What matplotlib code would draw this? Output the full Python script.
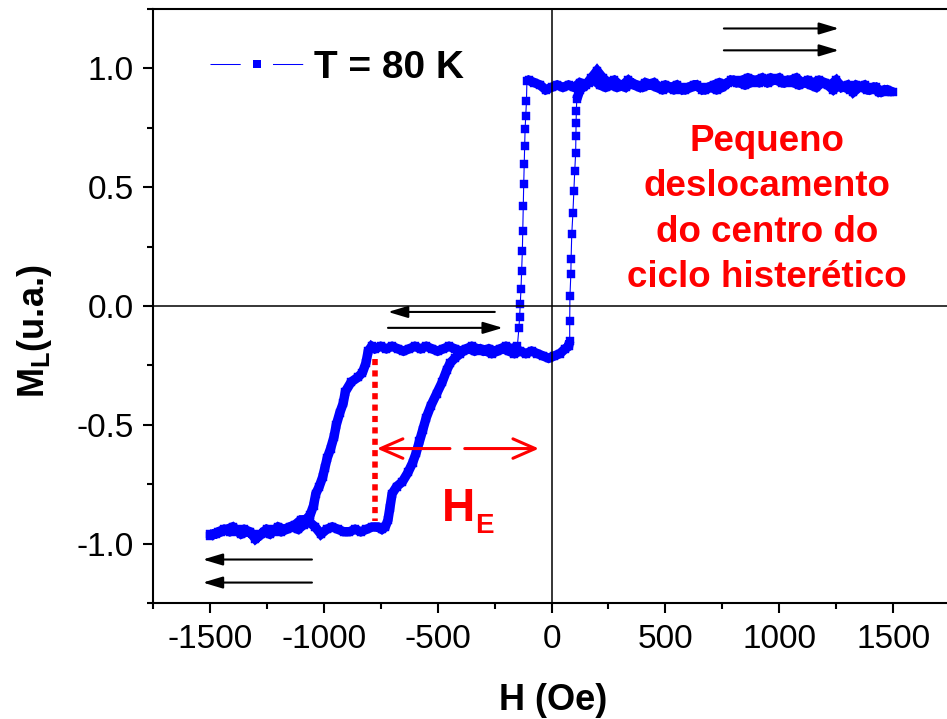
import matplotlib
matplotlib.use("Agg")
import numpy as np
import matplotlib.pyplot as plt
from matplotlib.lines import Line2D
from matplotlib.legend_handler import HandlerTuple

plt.rcParams['font.family'] = ['Liberation Sans', 'DejaVu Sans']
plt.rcParams['axes.unicode_minus'] = False
plt.rcParams['mathtext.fontset'] = 'custom'
plt.rcParams['mathtext.rm'] = 'Liberation Sans'
plt.rcParams['mathtext.bf'] = 'Liberation Sans:bold'

# ---------------- data ----------------
# descending branch: +1500 Oe -> -1500 Oe
H_down = [1500, 1475, 1450, 1425, 1400, 1375, 1350, 1325, 1300, 1275, 1250, 1225, 1200,
          1175, 1150, 1125, 1100, 1075, 1050, 1025, 1000, 975, 950, 925, 900, 875, 850,
          825, 800, 775, 750, 725, 700, 675, 650, 625, 600, 575, 550, 525, 500, 475, 450,
          425, 400, 375, 350, 325, 300, 275, 250, 225, 200, 175, 150, 125, 100, 75, 50,
          25, 0, -25, -50, -75, -100,
          -108, -110, -113, -116, -118, -120, -122, -124, -126, -128, -131, -134, -137, -140, -143,
          -150, -175, -200, -225, -250, -275, -300, -325, -350, -375, -400, -425, -450,
          -475, -500, -525, -550, -575, -600, -625, -650, -675, -700, -725, -750, -775, -790,
          -805, -815, -830, -850, -880, -905, -915, -930, -945, -955, -970, -985, -995,
          -1005, -1020, -1035, -1045, -1060, -1080, -1100,
          -1125, -1150, -1175, -1200, -1225, -1250, -1275, -1300, -1325, -1350, -1375,
          -1400, -1425, -1450, -1475, -1500]
M_down = [0.90, 0.91, 0.90, 0.92, 0.91, 0.93, 0.92, 0.90, 0.93, 0.92, 0.95, 0.93, 0.94,
          0.95, 0.94, 0.95, 0.94, 0.96, 0.95, 0.94, 0.96, 0.95, 0.94, 0.96, 0.95, 0.94, 0.93,
          0.94, 0.95, 0.94, 0.92, 0.91, 0.92, 0.91, 0.92, 0.93, 0.92, 0.91, 0.93, 0.92, 0.93,
          0.92, 0.94, 0.93, 0.92, 0.93, 0.94, 0.92, 0.93, 0.95, 0.94, 0.96, 0.99, 0.96, 0.93,
          0.94, 0.92, 0.93, 0.92, 0.93, 0.92, 0.91, 0.93, 0.94, 0.95,
          0.945, 0.861, 0.798, 0.744, 0.672, 0.597, 0.513, 0.420, 0.315, 0.231, 0.147,
          0.071, 0.008, -0.046, -0.092,
          -0.17, -0.18, -0.17, -0.18, -0.19, -0.18, -0.19, -0.18, -0.17, -0.18, -0.19,
          -0.18, -0.17, -0.18, -0.19, -0.18, -0.17, -0.18, -0.17, -0.18, -0.19, -0.18,
          -0.17, -0.18, -0.17, -0.18, -0.17,
          -0.19, -0.24, -0.28, -0.30, -0.32, -0.36, -0.41, -0.45, -0.50, -0.55, -0.60,
          -0.64, -0.68, -0.72, -0.76, -0.79, -0.84, -0.88, -0.90, -0.90,
          -0.92, -0.93, -0.94, -0.93, -0.95, -0.94, -0.96, -0.98, -0.95, -0.94, -0.95,
          -0.93, -0.94, -0.95, -0.96, -0.96]

# ascending branch: -1500 Oe -> +1500 Oe
H_up = [-1500, -1462.5, -1437.5, -1412.5, -1387.5, -1362.5, -1337.5, -1312.5, -1287.5,
        -1262.5, -1237.5, -1212.5, -1187.5, -1162.5, -1137.5, -1112.5, -1087.5, -1062.5,
        -1037.5, -1012.5, -987.5, -962.5, -937.5, -912.5, -887.5, -862.5, -837.5, -812.5,
        -787.5, -762.5, -745, -730,
        -718, -710, -700, -680, -655, -630, -610, -595, -580, -565, -550, -530, -505,
        -480, -460, -445, -425, -400,
        -387.5, -362.5, -337.5, -312.5, -287.5, -262.5, -237.5, -212.5, -187.5, -162.5,
        -137.5, -112.5, -87.5, -62.5, -37.5, -12.5, 12.5, 37.5, 60, 75,
        80, 80, 81, 85, 86, 89, 94, 98, 102, 106, 107, 108, 109, 111,
        125, 137.5, 162.5, 187.5, 212.5, 237.5, 262.5, 287.5, 312.5, 337.5, 362.5, 387.5,
        412.5, 437.5, 462.5, 487.5, 512.5, 537.5, 562.5, 587.5, 612.5, 637.5, 662.5, 687.5,
        712.5, 737.5, 762.5, 787.5, 812.5, 837.5, 862.5, 887.5, 912.5, 937.5, 962.5, 987.5,
        1012.5, 1037.5, 1062.5, 1087.5, 1112.5, 1137.5, 1162.5, 1187.5, 1212.5, 1237.5,
        1262.5, 1287.5, 1312.5, 1337.5, 1362.5, 1387.5, 1412.5, 1437.5, 1462.5, 1487.5]
M_up = [-0.97, -0.95, -0.94, -0.95, -0.94, -0.96, -0.95, -0.96, -0.97, -0.95, -0.96,
        -0.94, -0.95, -0.94, -0.93, -0.94, -0.92, -0.91, -0.93, -0.96, -0.94, -0.93, -0.94,
        -0.95, -0.95, -0.94, -0.95, -0.94, -0.93, -0.93, -0.94, -0.93,
        -0.90, -0.85, -0.79, -0.76, -0.74, -0.70, -0.66, -0.62, -0.57, -0.52, -0.47,
        -0.42, -0.37, -0.32, -0.27, -0.24, -0.22, -0.20,
        -0.19, -0.18, -0.19, -0.18, -0.19, -0.20, -0.19, -0.18, -0.19, -0.20, -0.19,
        -0.20, -0.19, -0.20, -0.21, -0.22, -0.21, -0.20, -0.18, -0.17,
        -0.147, -0.063, 0.042, 0.134, 0.197, 0.303, 0.391, 0.483, 0.567, 0.643, 0.714,
        0.769, 0.819, 0.870,
        0.91, 0.92, 0.94, 0.95, 0.93, 0.92, 0.93, 0.92, 0.93, 0.95, 0.93, 0.92, 0.94,
        0.93, 0.92, 0.91, 0.92, 0.91, 0.92, 0.91, 0.92, 0.93, 0.91, 0.92, 0.93, 0.94,
        0.93, 0.95, 0.94, 0.95, 0.96, 0.95, 0.94, 0.95, 0.96, 0.95, 0.94, 0.95, 0.94,
        0.93, 0.94, 0.93, 0.92, 0.94, 0.93, 0.91, 0.93, 0.92, 0.91, 0.93, 0.92, 0.91,
        0.92, 0.90, 0.91, 0.90]

series_label = "T = 80 K"
x_ticks = [-1500, -1000, -500, 0, 500, 1000, 1500]
y_ticks = [-1.0, -0.5, 0.0, 0.5, 1.0]
annot_text = "Pequeno\ndeslocamento\ndo centro do\nciclo histerético"
H_E_field = -776          # position of the red dotted line (Oe)
H_E_span = (-0.223, -0.903)

BLUE = '#0000ff'
RED = '#ff0000'

# ---------------- figure ----------------
fig = plt.figure(figsize=(9.47, 7.19), dpi=100)
ax = fig.add_axes([153/947, 116/719, 797/947, 594/719])

H_all = np.array(H_down + H_up, dtype=float)
M_all = np.array(M_down + M_up, dtype=float)

# densely sampled parts of the loop appear as a thick band: draw them with a wide
# line (broken where consecutive points are far apart, i.e. at the sharp jumps)
dH = np.abs(np.diff(H_all))
dM = np.abs(np.diff(M_all))
steep = dM > 0.009 * np.maximum(dH, 1e-9)
Hb, Mb = [H_all[0]], [M_all[0]]
for i in range(1, len(H_all)):
    if steep[i - 1]:
        Hb.append(np.nan)
        Mb.append(np.nan)
    Hb.append(H_all[i])
    Mb.append(M_all[i])
ax.plot(Hb, Mb, color=BLUE, lw=6.8, solid_joinstyle='miter', solid_capstyle='butt',
        zorder=3)
ax.plot(H_all, M_all, color=BLUE, lw=0.8, marker='s', ms=5.4, mec=BLUE, mfc=BLUE,
        mew=0.3, zorder=3)

ax.set_xlim(-1750, 1750)
ax.set_ylim(-1.25, 1.25)
ax.set_xticks(x_ticks)
ax.set_xticks([-1750, -1250, -750, -250, 250, 750, 1250, 1750], minor=True)
ax.set_yticks(y_ticks)
ax.set_yticks([-1.25, -0.75, -0.25, 0.25, 0.75, 1.25], minor=True)
ax.set_xticklabels([str(v) for v in x_ticks])
ax.set_yticklabels(["%.1f" % v for v in y_ticks])

for s in ['left', 'bottom', 'top']:
    ax.spines[s].set_linewidth(1.5)
ax.spines['right'].set_visible(False)
ax.tick_params(which='major', direction='out', length=7, width=1.5, labelsize=24,
               top=False, right=False)
ax.tick_params(which='minor', direction='out', length=4.5, width=1.5,
               top=False, right=False)
ax.tick_params(axis='x', which='major', pad=8)
ax.tick_params(axis='y', which='major', pad=7)

ax.axhline(0, color='k', lw=1.1, zorder=4)
ax.axvline(0, color='k', lw=1.1, zorder=4)

ax.set_xlabel("H (Oe)", fontsize=26, fontweight='bold')
ax.xaxis.set_label_coords(0.502, -0.135)
fig.text(35/947, 1 - 331/719, r"$\mathbf{M_L}$(u.a.)", rotation=90, fontsize=26,
         fontweight='bold', ha='center', va='center')

# legend
h_line = Line2D([], [], color=BLUE, lw=0.75, linestyle=(0, (29, 31)))
h_mark = Line2D([], [], color=BLUE, lw=0, marker='s', ms=6, mew=0)
ax.legend(handles=[(h_line, h_mark)], labels=[series_label],
          handler_map={tuple: HandlerTuple(ndivide=1, pad=0)},
          handlelength=2.4, handletextpad=0.28, frameon=False,
          loc='center left', bbox_to_anchor=(57/797, 0.9007),
          borderpad=0, borderaxespad=0,
          prop=dict(weight='bold', size=28))

# black direction arrows
arrow_kw = dict(arrowstyle='-|>,head_length=1.0,head_width=0.3', color='k', lw=1.5,
                mutation_scale=12, shrinkA=0, shrinkB=0)
for (x0, x1, y) in [(757, 1262, 1.168), (757, 1262, 1.076),
                    (-249, -718, -0.025), (-718, -214, -0.092),
                    (-1052, -1531, -1.067), (-1052, -1531, -1.164)]:
    ax.annotate('', xy=(x1, y), xytext=(x0, y), arrowprops=arrow_kw, zorder=5)

# red H_E annotation
ax.plot([H_E_field, H_E_field], list(H_E_span), color=RED, lw=4,
        linestyle=(0, (1.1, 0.95)), zorder=5)
red_kw = dict(arrowstyle='->,head_length=0.8,head_width=0.35', color=RED, lw=2.2,
              mutation_scale=20, shrinkA=0, shrinkB=0)
ax.annotate('', xy=(-767, -0.60), xytext=(-446, -0.60), arrowprops=red_kw, zorder=5)
ax.annotate('', xy=(-55, -0.60), xytext=(-381, -0.60), arrowprops=red_kw, zorder=5)
ax.text(-482, -0.903, "H", color=RED, fontsize=33, fontweight='bold',
        ha='left', va='baseline')
ax.text(-337, -0.954, "E", color=RED, fontsize=20, fontweight='bold',
        ha='left', va='baseline')

ax.text(945, 0.765, annot_text, color=RED, fontsize=26.5, fontweight='bold',
        ha='center', va='top', multialignment='center', linespacing=1.38)

fig.savefig("out.png", dpi=100)
